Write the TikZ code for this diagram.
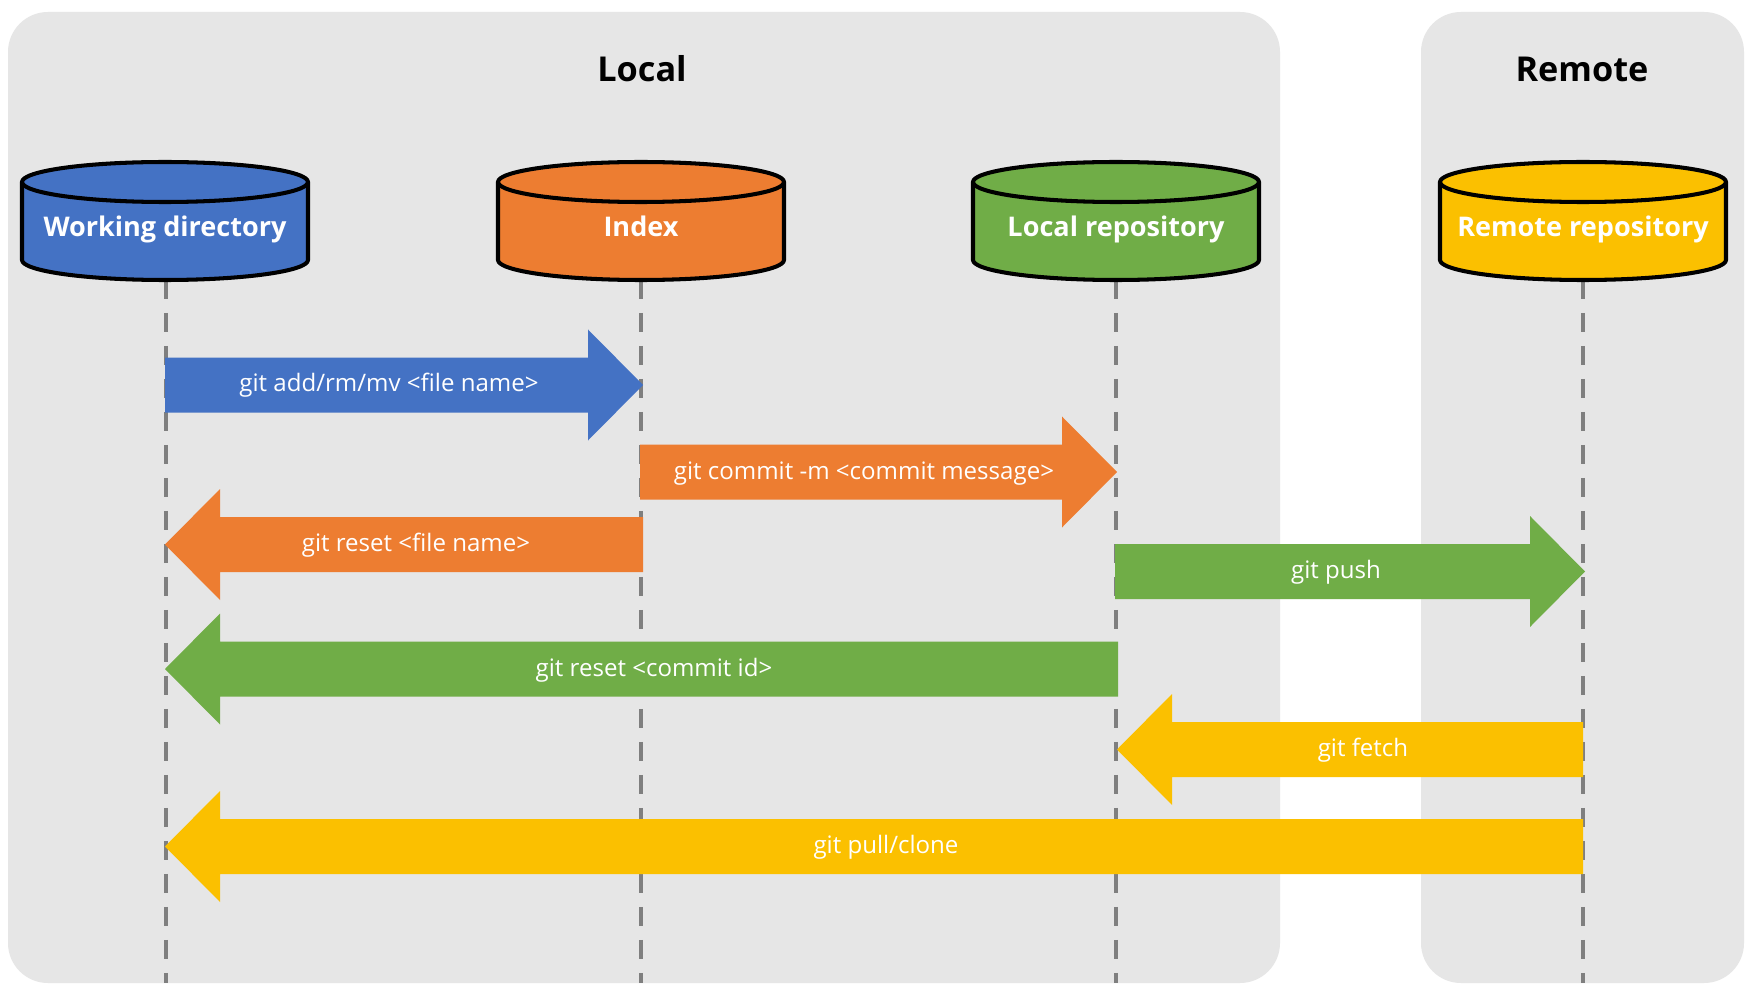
\documentclass[tikz,border=0pt]{standalone}
\usepackage{fontspec}
\setmainfont{Open Sans}
\usetikzlibrary{calc}
\definecolor{gblue}{HTML}{4472C4}
\definecolor{gorange}{HTML}{ED7D31}
\definecolor{ggreen}{HTML}{70AD47}
\definecolor{gyellow}{HTML}{FBC000}
\definecolor{panelgray}{HTML}{E6E6E6}
\definecolor{linegray}{HTML}{7F7F7F}
\tikzset{
  panel/.style={fill=panelgray, rounded corners=0.8cm},
  heading/.style={font=\bfseries\fontsize{19.5}{23}\selectfont, text=black, inner sep=0pt, anchor=base},
  cyllabel/.style={font=\bfseries\fontsize{15.4}{18}\selectfont, text=white, inner sep=0pt, anchor=base},
  arrlabel/.style={font=\fontsize{13.7}{16}\selectfont, text=white, inner sep=0pt, anchor=base},
  lifeline/.style={draw=linegray, line width=2.7pt, dash pattern=on 0.38cm off 0.28cm},
  cylborder/.style={draw=black, line width=2.3pt},
}
% cylinder: #1 = centre x, #2 = colour
\newcommand\mycyl[2]{%
  \path[fill=#2, cylborder] (#1-143,-182) -- (#1-143,-260)
    arc[start angle=180, end angle=360, x radius=143, y radius=20]
    -- (#1+143,-182)
    arc[start angle=0, end angle=180, x radius=143, y radius=20] -- cycle;
  \draw[cylborder] (#1+143,-182) arc[start angle=0, end angle=-180, x radius=143, y radius=20];
}
% arrow: #1 = tail coordinate, #2 = tip coordinate, #3 = direction (1 right, -1 left), #4 = colour
\newcommand\myarrow[4]{%
  \fill[#4] ($(#1)+(0,27.5)$) -- ($(#2)+({-55*#3},27.5)$) -- ($(#2)+({-55*#3},55.5)$)
    -- (#2) -- ($(#2)+({-55*#3},-55.5)$) -- ($(#2)+({-55*#3},-27.5)$)
    -- ($(#1)+(0,-27.5)$) -- cycle;
}
\begin{document}
\begin{tikzpicture}[x=0.02cm, y=0.02cm]
\useasboundingbox (0,-993) rectangle (1752,0);
\fill[white] (0,-993) rectangle (1752,0);
% panels
\fill[panel] (8,-12) rectangle (1280,-983);
\fill[panel] (1421,-12) rectangle (1744,-983);
\node[heading] (local) at (642,-82) {Local};
\node[heading] (remote) at (1582,-82) {Remote};
% lifeline coordinates
\coordinate (wdtop) at (166,-280);   \coordinate (wdbot) at (166,-983);
\coordinate (ixtop) at (641,-280);   \coordinate (ixbot) at (641,-983);
\coordinate (lrtop) at (1116,-280);  \coordinate (lrbot) at (1116,-983);
\coordinate (rrtop) at (1583,-280);  \coordinate (rrbot) at (1583,-983);
\draw[lifeline] (wdtop) -- (wdbot);
\draw[lifeline] (ixtop) -- (ixbot);
\draw[lifeline] (lrtop) -- (lrbot);
\draw[lifeline] (rrtop) -- (rrbot);
% cylinders
\mycyl{165}{gblue}
\mycyl{641}{gorange}
\mycyl{1116}{ggreen}
\mycyl{1583}{gyellow}
\node[cyllabel] (wd) at (165,-237) {Working directory};
\node[cyllabel] (ix) at (641,-237) {Index};
\node[cyllabel] (lr) at (1116,-237) {Local repository};
\node[cyllabel] (rr) at (1583,-237) {Remote repository};
% arrow end points
\coordinate (a1s) at (165,-385);  \coordinate (a1e) at (643,-385);
\coordinate (a2s) at (640,-472);  \coordinate (a2e) at (1117,-472);
\coordinate (a3s) at (643,-544.5);\coordinate (a3e) at (165,-544.5);
\coordinate (a4s) at (1115,-571.5);\coordinate (a4e) at (1585,-571.5);
\coordinate (a5s) at (1118,-669); \coordinate (a5e) at (165,-669);
\coordinate (a6s) at (1583,-749.5);\coordinate (a6e) at (1117,-749.5);
\coordinate (a7s) at (1583,-846.5);\coordinate (a7e) at (165,-846.5);
\myarrow{a1s}{a1e}{1}{gblue}
\myarrow{a2s}{a2e}{1}{gorange}
\myarrow{a3s}{a3e}{-1}{gorange}
\myarrow{a4s}{a4e}{1}{ggreen}
\myarrow{a5s}{a5e}{-1}{ggreen}
\myarrow{a6s}{a6e}{-1}{gyellow}
\myarrow{a7s}{a7e}{-1}{gyellow}
\node[arrlabel] (t1) at (389,-392) {git add/rm/mv <file name>};
\node[arrlabel] (t2) at (864,-479) {git commit -m <commit message>};
\node[arrlabel] (t3) at (416,-551.5) {git reset <file name>};
\node[arrlabel] (t4) at (1336,-578.5) {git push};
\node[arrlabel] (t5) at (654,-676) {git reset <commit id>};
\node[arrlabel] (t6) at (1363,-756.5) {git fetch};
\node[arrlabel] (t7) at (886,-853.5) {git pull/clone};
\end{tikzpicture}
\end{document}
